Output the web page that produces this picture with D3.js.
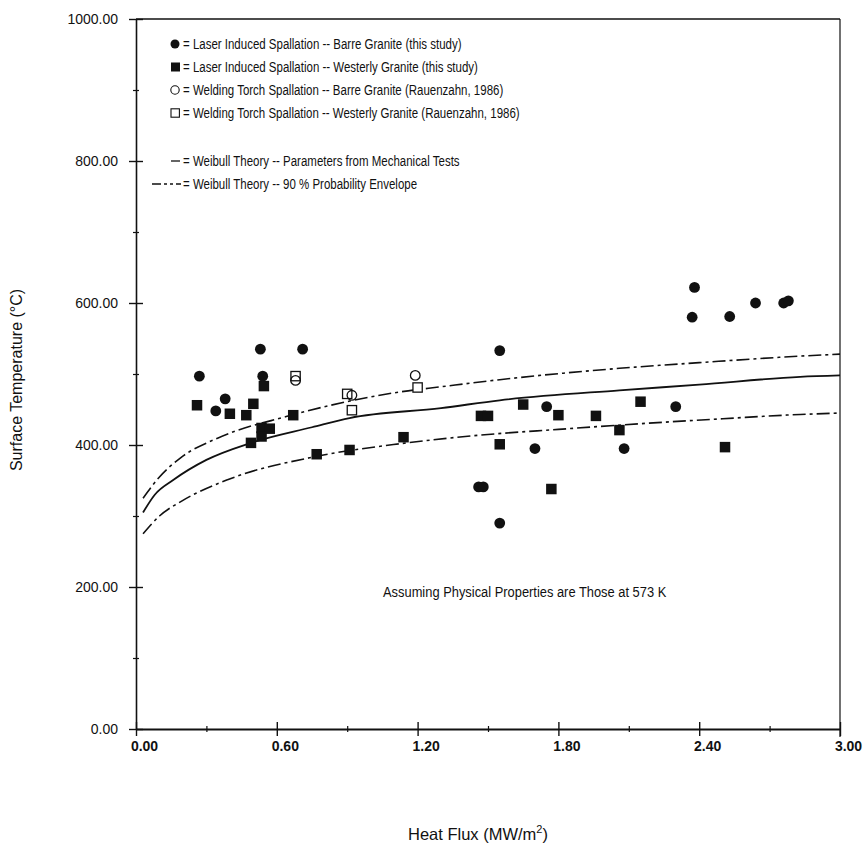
<!DOCTYPE html>
<html>
<head>
<meta charset="utf-8">
<script src="https://cdn.jsdelivr.net/npm/d3@7/dist/d3.min.js"></script>
<style>
  html, body { margin: 0; padding: 0; background: #fff; }
  svg { display: block; font-family: "Liberation Sans", Arial, Helvetica, sans-serif; }
</style>
</head>
<body>
<svg id="chart" width="864" height="847"></svg>
<script>
// ---------------- DATA ----------------
const xTicks = [0, 0.6, 1.2, 1.8, 2.4, 3.0];
const xMinorTicks = [0.3, 0.9, 1.5, 2.1, 2.7];
const yTicks = [0, 200, 400, 600, 800, 1000];
const yMinorTicks = [100, 300, 500, 700, 900];

// Laser induced spallation -- Barre granite (filled circles)
const laserBarreX = [0.27, 0.53, 0.71, 0.38, 0.34, 0.54, 1.46, 1.48, 1.55, 1.55, 1.75, 1.70, 2.08, 2.30, 2.38, 2.37, 2.53, 2.64, 2.76, 2.78];
const laserBarreY = [497, 535, 535, 465, 448, 497, 341, 341, 290, 533, 454, 395, 395, 454, 622, 580, 581, 600, 600, 603];

// Laser induced spallation -- Westerly granite (filled squares)
const laserWestX = [0.26, 0.40, 0.47, 0.50, 0.545, 0.535, 0.57, 0.49, 0.535, 0.67, 0.77, 0.91, 1.14, 1.47, 1.50, 1.65, 1.80, 1.96, 2.15, 2.06, 1.55, 2.51, 1.77];
const laserWestY = [456, 444, 442, 458, 483, 424, 423, 403, 412, 442, 387, 393, 411, 441, 441, 457, 442, 441, 461, 421, 401, 397, 338];

// Welding torch spallation -- Barre granite (open circles)
const torchBarreX = [0.68, 0.92, 1.19];
const torchBarreY = [491, 470, 498];

// Welding torch spallation -- Westerly granite (open squares)
const torchWestX = [0.68, 0.90, 0.92, 1.20];
const torchWestY = [497, 472, 449, 481];

// Weibull theory curves
const weibullX = [0.03, 0.08, 0.16, 0.30, 0.49, 0.75, 0.91, 1.30, 1.55, 2.06, 2.40, 2.83, 3.00];
const weibullY = [305, 330, 351, 379, 403, 425, 438, 452, 463, 477, 485, 496, 498];
const upperX = [0.03, 0.10, 0.19, 0.35, 0.64, 0.83, 1.13, 1.30, 1.55, 2.06, 2.40, 2.82, 3.00];
const upperY = [325, 355, 382, 410, 440, 456, 475, 482, 492, 508, 516, 525, 528];
const lowerX = [0.03, 0.10, 0.20, 0.39, 0.77, 1.13, 1.47, 1.80, 2.15, 2.50, 2.83, 3.00];
const lowerY = [275, 300, 322, 351, 384, 402, 414, 422, 430, 437, 443, 445];

const legendLabels = [
  "Laser Induced Spallation -- Barre Granite (this study)",
  "Laser Induced Spallation -- Westerly Granite (this study)",
  "Welding Torch Spallation -- Barre Granite (Rauenzahn, 1986)",
  "Welding Torch Spallation -- Westerly Granite (Rauenzahn, 1986)",
  "Weibull Theory -- Parameters from Mechanical Tests",
  "Weibull Theory -- 90 % Probability Envelope"
];
const noteText = "Assuming Physical Properties are Those at 573 K";
const xTitle = "Heat Flux (MW/m";
const yTitle = "Surface Temperature (°C)";

// ---------------- DRAW ----------------
const svg = d3.select("#chart");
const x = d3.scaleLinear().domain([0, 3]).range([136, 840]);
const y = d3.scaleLinear().domain([0, 1000]).range([729, 19]);
const ink = "#111";

function condense(sel, f) {
  sel.each(function () {
    const L = this.getComputedTextLength();
    d3.select(this).attr("textLength", L * f).attr("lengthAdjust", "spacingAndGlyphs");
  });
}

// frame: top and right
svg.append("line").attr("x1", x(0)).attr("x2", x(3)).attr("y1", y(1000)).attr("y2", y(1000))
  .attr("stroke", ink).attr("stroke-width", 1.6);
svg.append("line").attr("x1", x(3)).attr("x2", x(3)).attr("y1", y(1000)).attr("y2", y(0) + 8)
  .attr("stroke", ink).attr("stroke-width", 1.2);

// Y axis
const yAxis = svg.append("g").attr("transform", `translate(${x(0)},0)`)
  .call(d3.axisLeft(y).tickValues(yTicks).tickFormat(d3.format(".2f")).tickSize(0).tickPadding(18));
yAxis.select(".domain").attr("stroke", ink).attr("stroke-width", 1.6);
yAxis.selectAll(".tick text").attr("font-size", 14).attr("fill", ink)
  .attr("font-family", "'Liberation Sans', Arial, sans-serif");
yAxis.selectAll(".tick").append("line").attr("x1", -7).attr("x2", 7).attr("stroke", ink).attr("stroke-width", 1.4);
const yMinor = svg.append("g").attr("transform", `translate(${x(0)},0)`)
  .call(d3.axisLeft(y).tickValues(yMinorTicks).tickFormat("").tickSize(0));
yMinor.select(".domain").remove();
yMinor.selectAll(".tick").append("line").attr("x1", -3).attr("x2", 3).attr("stroke", ink).attr("stroke-width", 1.2);

// X axis
const xAxis = svg.append("g").attr("transform", `translate(0,${y(0)})`)
  .call(d3.axisBottom(x).tickValues(xTicks).tickFormat(d3.format(".2f")).tickSize(0).tickPadding(12));
xAxis.select(".domain").attr("stroke", ink).attr("stroke-width", 2.2);
xAxis.selectAll(".tick text").attr("font-size", 14).attr("fill", ink).attr("dx", 8)
  .attr("font-family", "'Liberation Sans', Arial, sans-serif").attr("font-weight", 600);
xAxis.selectAll(".tick").append("line").attr("y1", -7).attr("y2", 7).attr("stroke", ink).attr("stroke-width", 1.4);
const xMinor = svg.append("g").attr("transform", `translate(0,${y(0)})`)
  .call(d3.axisBottom(x).tickValues(xMinorTicks).tickFormat("").tickSize(0));
xMinor.select(".domain").remove();
xMinor.selectAll(".tick").append("line").attr("y1", -3).attr("y2", 3).attr("stroke", ink).attr("stroke-width", 1.2);

// Curves
const line = d3.line().x(d => x(d[0])).y(d => y(d[1])).curve(d3.curveMonotoneX);
const dashDot = "13,4,3,4";
svg.append("path").datum(weibullX.map((v, i) => [v, weibullY[i]]))
  .attr("d", line).attr("fill", "none").attr("stroke", ink).attr("stroke-width", 1.8);
svg.append("path").datum(upperX.map((v, i) => [v, upperY[i]]))
  .attr("d", line).attr("fill", "none").attr("stroke", ink).attr("stroke-width", 1.6).attr("stroke-dasharray", dashDot);
svg.append("path").datum(lowerX.map((v, i) => [v, lowerY[i]]))
  .attr("d", line).attr("fill", "none").attr("stroke", ink).attr("stroke-width", 1.6).attr("stroke-dasharray", dashDot);

// Markers
const R = 5.4, S = 10.5;
svg.append("g").selectAll("rect").data(torchWestX.map((v, i) => [v, torchWestY[i]])).join("rect")
  .attr("x", d => x(d[0]) - S / 2 + 0.6).attr("y", d => y(d[1]) - S / 2 + 0.6)
  .attr("width", S - 1.2).attr("height", S - 1.2).attr("fill", "#fff").attr("stroke", ink).attr("stroke-width", 1.3);
svg.append("g").selectAll("circle").data(torchBarreX.map((v, i) => [v, torchBarreY[i]])).join("circle")
  .attr("cx", d => x(d[0])).attr("cy", d => y(d[1])).attr("r", R - 0.6)
  .attr("fill", "none").attr("stroke", ink).attr("stroke-width", 1.3);
svg.append("g").selectAll("rect").data(laserWestX.map((v, i) => [v, laserWestY[i]])).join("rect")
  .attr("x", d => x(d[0]) - S / 2).attr("y", d => y(d[1]) - S / 2)
  .attr("width", S).attr("height", S).attr("fill", ink);
svg.append("g").selectAll("circle").data(laserBarreX.map((v, i) => [v, laserBarreY[i]])).join("circle")
  .attr("cx", d => x(d[0])).attr("cy", d => y(d[1])).attr("r", R).attr("fill", ink);

// Legend
const legRows = [44, 67, 90, 113, 161, 184];
const lg = svg.append("g");
lg.append("circle").attr("cx", 175).attr("cy", legRows[0]).attr("r", 4.5).attr("fill", ink);
lg.append("rect").attr("x", 171).attr("y", legRows[1] - 4.5).attr("width", 9).attr("height", 9).attr("fill", ink);
lg.append("circle").attr("cx", 175).attr("cy", legRows[2]).attr("r", 4.2).attr("fill", "none").attr("stroke", ink).attr("stroke-width", 1.1);
lg.append("rect").attr("x", 171).attr("y", legRows[3] - 4.2).attr("width", 8.4).attr("height", 8.4).attr("fill", "none").attr("stroke", ink).attr("stroke-width", 1.1);
lg.append("line").attr("x1", 171).attr("x2", 180).attr("y1", legRows[4]).attr("y2", legRows[4]).attr("stroke", ink).attr("stroke-width", 1.3);
lg.append("line").attr("x1", 152).attr("x2", 181).attr("y1", legRows[5]).attr("y2", legRows[5]).attr("stroke", ink).attr("stroke-width", 1.3).attr("stroke-dasharray", "9,3,3,3,3,3");
const legText = lg.selectAll("text.leg").data(legendLabels).join("text").attr("class", "leg")
  .attr("x", 183).attr("y", (d, i) => legRows[i]).attr("dy", "0.35em")
  .attr("font-size", 14).attr("fill", ink).text(d => "= " + d);
condense(legText, 0.82);

// Note
const note = svg.append("text").attr("x", 383).attr("y", 592).attr("dy", "0.35em")
  .attr("font-size", 14).attr("fill", ink).text(noteText);
condense(note, 0.92);

// Axis titles
const xt = svg.append("text").attr("x", 478).attr("y", 840).attr("text-anchor", "middle")
  .attr("font-size", 16.5).attr("fill", ink);
xt.append("tspan").text(xTitle);
xt.append("tspan").attr("font-size", 11).attr("dy", -7).text("2");
xt.append("tspan").attr("dy", 7).text(")");

svg.append("text").attr("transform", `translate(22,380) rotate(-90)`).attr("text-anchor", "middle")
  .attr("font-size", 16).attr("fill", ink).text(yTitle);
</script>
</body>
</html>
